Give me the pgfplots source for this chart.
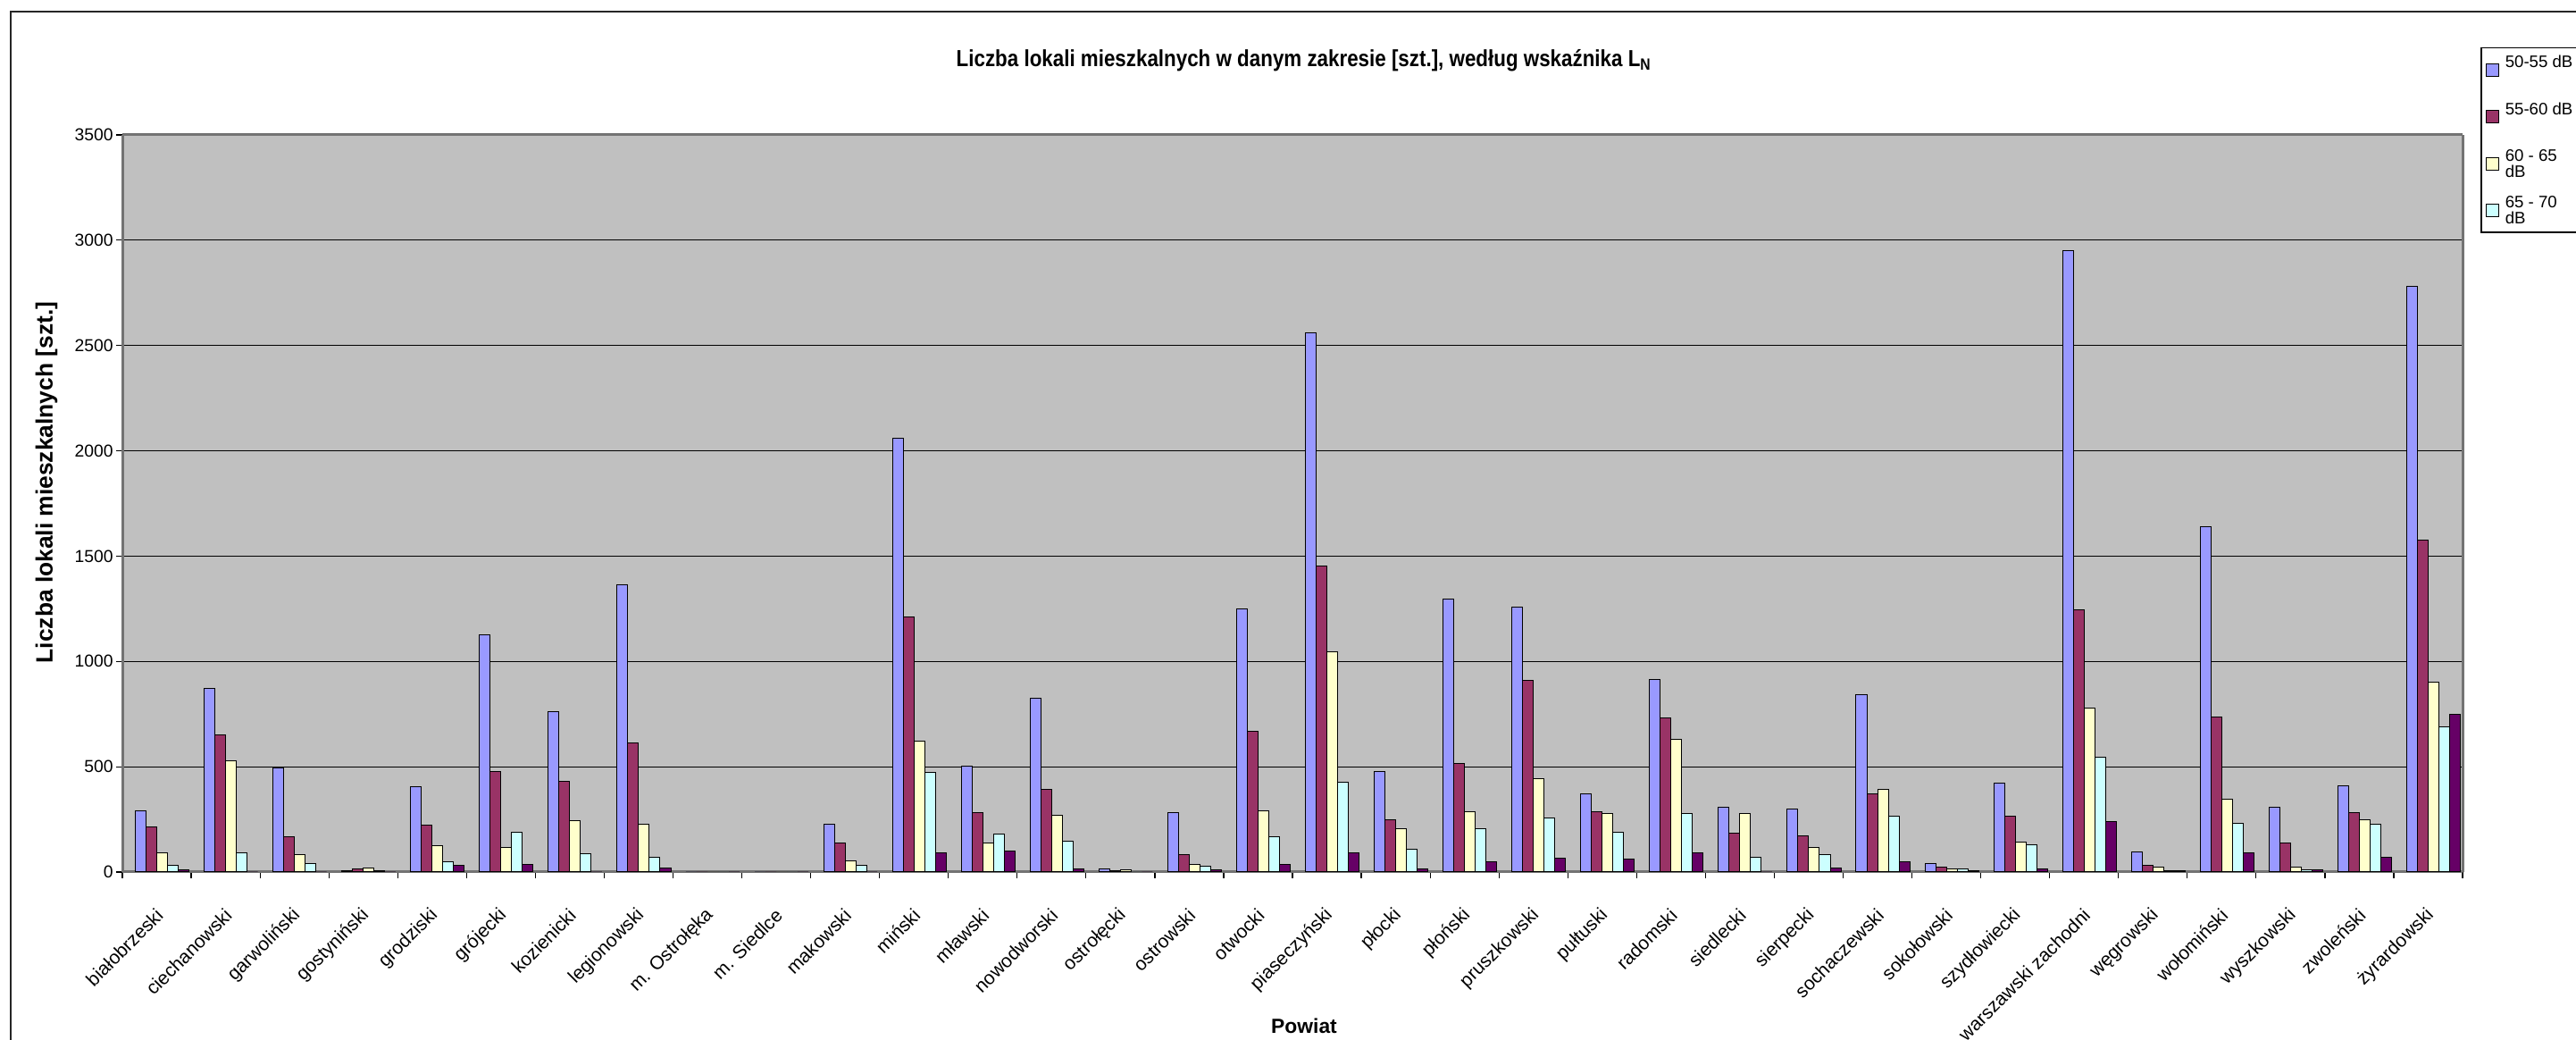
\documentclass[border=0pt]{standalone}
\usepackage{fontspec}
\setmainfont{Liberation Sans}
\usepackage{pgfplots}
\pgfplotsset{compat=1.18}
\usepackage{pgfplotstable}

\definecolor{cA}{HTML}{9999FF}
\definecolor{cB}{HTML}{993366}
\definecolor{cC}{HTML}{FFFFCC}
\definecolor{cD}{HTML}{CCFFFF}
\definecolor{cE}{HTML}{660066}
\definecolor{bg}{HTML}{C0C0C0}

\pgfplotstableread{
x a b c d e
0 289 215 93 33 11
1 870 652 528 93 0
2 494 169 81 41 0
3 8 13 17 8 0
4 404 221 123 50 30
5 1126 476 116 190 38
6 761 429 242 89 0
7 1366 612 225 68 17
8 0 0 0 0 0
9 0 0 0 0 0
10 228 136 54 30 0
11 2059 1212 622 472 91
12 504 281 136 182 99
13 825 391 270 148 13
14 13 5 10 0 0
15 281 83 35 26 10
16 1250 668 290 166 35
17 2560 1455 1046 426 91
18 477 250 207 107 13
19 1298 515 285 207 48
20 1258 912 442 255 64
21 373 285 278 190 61
22 914 730 630 278 91
23 308 183 278 69 0
24 300 171 116 83 18
25 844 373 391 265 48
26 40 22 13 13 5
27 421 265 144 131 13
28 2950 1244 777 547 238
29 96 32 22 5 5
30 1638 734 344 230 91
31 308 139 22 10 10
32 411 281 250 225 69
33 2781 1577 903 691 748
}\data

\begin{document}
\begin{tikzpicture}[x=1mm,y=1mm]
\useasboundingbox (0,0) rectangle (288.4,116.4);
\draw[line width=0.25mm, black!85] (1.2,-2) -- (1.2,115.1) -- (292,115.1);
\begin{axis}[
  at={(13.7mm,18.8mm)}, anchor=south west,
  scale only axis, width=262mm, height=82.5mm,
  xmin=-0.5, xmax=33.5, ymin=0, ymax=3500,
  axis background/.style={fill=bg},
  ybar=0pt, bar width=0.156,
  ytick={0,500,...,3500},
  ymajorgrids, grid style={draw=black, line width=0.12mm},
  separate axis lines,
  x axis line style={draw=black!55, line width=0.3mm},
  y axis line style={draw=black!55, line width=0.3mm},
  tick align=outside, xtick pos=bottom, ytick pos=left,
  major tick length=0.7mm, minor tick length=0.7mm,
  major y tick style={draw=black, line width=0.12mm},
  major x tick style={draw=none},
  minor x tick style={draw=black, line width=0.12mm},
  xtick={0,...,33},
  minor xtick={-0.5,0.5,...,33.5},
  xticklabels={białobrzeski,ciechanowski,garwoliński,gostyniński,grodziski,grójecki,kozienicki,legionowski,m. Ostrołęka,m. Siedlce,makowski,miński,mławski,nowodworski,ostrołęcki,ostrowski,otwocki,piaseczyński,płocki,płoński,pruszkowski,pułtuski,radomski,siedlecki,sierpecki,sochaczewski,sokołowski,szydłowiecki,warszawski zachodni,węgrowski,wołomiński,wyszkowski,zwoleński,żyrardowski},
  xticklabel style={yshift=-3.75mm, xshift=0.35mm, rotate=45, anchor=east, font=\fontsize{6}{7}\selectfont, inner sep=0pt},
  yticklabel style={font=\fontsize{5.5}{6.5}\selectfont, xshift=0.9mm},
  /pgf/number format/assume math mode=true,
  /pgf/number format/1000 sep={},
  every axis plot post/.append style={draw=black, line width=0.1mm,
     legend image code/.code={\draw[##1, draw=black, line width=0.1mm] (0mm,-0.7mm) rectangle (1.4mm,0.7mm);}},
  legend style={at={(axis description cs:1,1)}, anchor=north west, xshift=2mm, yshift=9.8mm,
     draw=black, line width=0.15mm, fill=white, font=\fontsize{5.3}{6}\selectfont,
     row sep=3.3mm, inner xsep=0.5mm, inner ysep=1.5mm, legend cell align=left,
     /tikz/every even column/.append style={column sep=0.3mm}},
]
\addplot[fill=cA] table[x=x,y=a]{\data};
\addlegendentry{\smash{50-55 dB}}
\addplot[fill=cB] table[x=x,y=b]{\data};
\addlegendentry{\smash{55-60 dB}}
\addplot[fill=cC] table[x=x,y=c]{\data};
\addlegendentry{\smash{\begin{tabular}[t]{@{}l@{}}60 - 65\\[-0.3mm]dB\end{tabular}}}
\addplot[fill=cD] table[x=x,y=d]{\data};
\addlegendentry{\smash{\begin{tabular}[t]{@{}l@{}}65 - 70\\[-0.3mm]dB\end{tabular}}}
\addplot[fill=cE, forget plot] table[x=x,y=e]{\data};
\end{axis}
\node at (146,109.6) {\fontsize{7.4}{8}\selectfont\bfseries\scalebox{0.86}[1]{Liczba lokali mieszkalnych w danym zakresie [szt.], według wskaźnika L\textsubscript{N}}};
\node[rotate=90] at (5.2,62.4) {\fontsize{7.5}{8}\selectfont\bfseries Liczba lokali mieszkalnych [szt.]};
\node at (146,1.6) {\fontsize{6.5}{7}\selectfont\bfseries Powiat};
\end{tikzpicture}
\end{document}
